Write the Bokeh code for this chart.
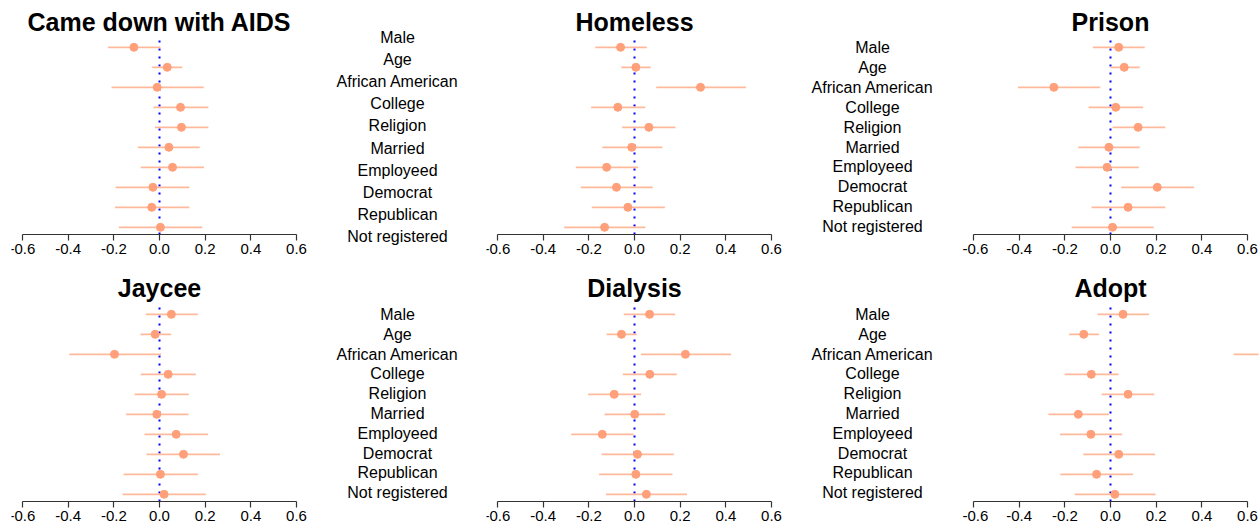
from bokeh.plotting import figure
from bokeh.layouts import row, column
from bokeh.models import Range1d, FixedTicker, ColumnDataSource
from bokeh.core.properties import value
from bokeh.embed import file_html
from bokeh.resources import INLINE

# ---------------- data ----------------
variables = ["Male", "Age", "African American", "College", "Religion",
             "Married", "Employeed", "Democrat", "Republican", "Not registered"]

titles = ["Came down with AIDS", "Homeless", "Prison", "Jaycee", "Dialysis", "Adopt"]

aids_est = [-0.112, 0.034, -0.010, 0.092, 0.096, 0.041, 0.057, -0.029, -0.034, 0.004]
aids_lo = [-0.225, -0.032, -0.210, -0.026, -0.020, -0.095, -0.082, -0.192, -0.195, -0.178]
aids_hi = [0.004, 0.100, 0.194, 0.214, 0.214, 0.176, 0.195, 0.131, 0.131, 0.187]

homeless_est = [-0.061, 0.006, 0.289, -0.073, 0.063, -0.012, -0.122, -0.079, -0.029, -0.131]
homeless_lo = [-0.172, -0.058, 0.095, -0.190, -0.054, -0.141, -0.257, -0.235, -0.187, -0.308]
homeless_hi = [0.054, 0.071, 0.488, 0.047, 0.179, 0.122, 0.016, 0.080, 0.133, 0.048]

prison_est = [0.036, 0.060, -0.248, 0.023, 0.121, -0.007, -0.015, 0.205, 0.077, 0.009]
prison_lo = [-0.077, 0.000, -0.405, -0.096, 0.009, -0.141, -0.153, 0.047, -0.083, -0.170]
prison_hi = [0.150, 0.128, -0.045, 0.143, 0.240, 0.128, 0.124, 0.366, 0.240, 0.189]

jaycee_est = [0.052, -0.019, -0.197, 0.038, 0.009, -0.012, 0.073, 0.105, 0.004, 0.020]
jaycee_lo = [-0.060, -0.083, -0.395, -0.082, -0.109, -0.146, -0.066, -0.057, -0.157, -0.162]
jaycee_hi = [0.168, 0.051, 0.007, 0.159, 0.128, 0.127, 0.213, 0.265, 0.169, 0.203]

dialysis_est = [0.066, -0.057, 0.223, 0.067, -0.089, 0.001, -0.141, 0.013, 0.006, 0.052]
dialysis_lo = [-0.047, -0.122, 0.028, -0.051, -0.203, -0.131, -0.277, -0.144, -0.155, -0.125]
dialysis_hi = [0.178, 0.010, 0.423, 0.185, 0.029, 0.134, -0.004, 0.172, 0.166, 0.230]

adopt_est = [0.055, -0.117, 0.740, -0.084, 0.077, -0.141, -0.086, 0.036, -0.061, 0.019]
adopt_lo = [-0.057, -0.181, 0.539, -0.201, -0.039, -0.272, -0.221, -0.119, -0.220, -0.157]
adopt_hi = [0.169, -0.050, 0.940, 0.035, 0.192, -0.007, 0.051, 0.195, 0.099, 0.197]

tick_values = [-0.6, -0.4, -0.2, 0.0, 0.2, 0.4, 0.6]
tick_labels = ["-0.6", "-0.4", "-0.2", "0.0", "0.2", "0.4", "0.6"]

series = [(aids_est, aids_lo, aids_hi), (homeless_est, homeless_lo, homeless_hi),
          (prison_est, prison_lo, prison_hi), (jaycee_est, jaycee_lo, jaycee_hi),
          (dialysis_est, dialysis_lo, dialysis_hi), (adopt_est, adopt_lo, adopt_hi)]

# ---------------- styling / layout ----------------
FONT = "Liberation Sans"
POINT_COLOR = "#FFA07A"
LINE_COLOR = "#FFBA9C"
N = len(variables)
ypos = [N - i for i in range(N)]          # Male at top
PX = 20.0                                 # pixels per row
PAD = 0.36                                # R style 4% padding
Y0 = 1 - PAD                              # bottom of plotting region
XLO, XHI = -0.648, 0.648

# page-pixel geometry for the two rows (page has no margin)
rows_geo = [
    dict(top=0, frame_bottom=234, h=262, title_px=21,
         lab=[(37, 22.1), (47, 19.9)]),
    dict(top=262, frame_bottom=501, h=264, title_px=287,
         lab=[(314, 19.8), (314, 19.8)]),
]
# column geometry: (width, border_left, border_right)
panel_cols = [(320, 11, 13), (308, 12, 0), (297, 0, 1)]
label_widths = [154, 180]


def panel(idx, geo, colspec):
    width, bl, br = colspec
    est, lo, hi = series[idx]
    above = (geo["frame_bottom"] - geo["top"]) / PX
    below = (geo["top"] + geo["h"] - geo["frame_bottom"]) / PX
    p = figure(width=width, height=geo["h"], output_backend="svg",
               toolbar_location=None, y_axis_location=None,
               x_range=Range1d(XLO, XHI),
               y_range=Range1d(Y0 - below, Y0 + above),
               min_border_left=bl, min_border_right=br,
               min_border_top=0, min_border_bottom=0)
    p.outline_line_color = None
    p.grid.visible = False
    p.background_fill_color = "white"
    p.border_fill_color = "white"

    src = ColumnDataSource(dict(y=ypos, est=est, lo=lo, hi=hi))
    p.segment(x0=0, y0=Y0, x1=0, y1=N + PAD, line_color="blue",
              line_width=2, line_dash="2 6")
    p.segment(x0="lo", y0="y", x1="hi", y1="y", source=src,
              line_color=LINE_COLOR, line_width=1.8)
    p.scatter(x="est", y="y", source=src, size=8, color=POINT_COLOR,
              line_color=POINT_COLOR)

    ty = Y0 + (geo["frame_bottom"] - geo["title_px"]) / PX
    p.text(x=[0], y=[ty], text=[titles[idx]], text_align="center",
           text_baseline="alphabetic", text_font=value(FONT),
           text_font_style="bold", text_font_size="25px", text_color="black")

    ax = p.xaxis[0]
    ax.fixed_location = Y0
    ax.ticker = FixedTicker(ticks=tick_values)
    ax.major_label_overrides = {v: s for v, s in zip(tick_values, tick_labels)}
    ax.bounds = (tick_values[0], tick_values[-1])
    ax.axis_line_color = "#333333"
    ax.axis_line_width = 1.2
    ax.major_tick_line_color = "#333333"
    ax.major_tick_line_width = 1.2
    ax.major_tick_out = 6
    ax.major_tick_in = 0
    ax.minor_tick_line_color = None
    ax.major_label_standoff = 3
    ax.major_label_text_font = FONT
    ax.major_label_text_font_size = "15px"
    ax.major_label_text_color = "black"
    return p


def labels(geo, k, width):
    first_px, step = geo["lab"][k]
    v_top = N + (first_px - geo["top"]) / step
    v_bot = v_top - geo["h"] / step
    p = figure(width=width, height=geo["h"], output_backend="svg",
               toolbar_location=None, x_axis_location=None,
               y_axis_location=None,
               x_range=Range1d(-width / 2, width / 2),
               y_range=Range1d(v_bot, v_top),
               min_border=0)
    p.outline_line_color = None
    p.grid.visible = False
    p.text(x=[0] * N, y=ypos, text=variables, text_align="center",
           text_baseline="middle", text_font=value(FONT),
           text_font_size="16px", text_color="black")
    return p


rows_out = []
for r, geo in enumerate(rows_geo):
    children = []
    for c in range(3):
        children.append(panel(r * 3 + c, geo, panel_cols[c]))
        if c < 2:
            children.append(labels(geo, c, label_widths[c]))
    rows_out.append(row(*children))

layout = column(*rows_out)

with open("out.html", "w") as f:
    f.write(file_html(layout, INLINE))
